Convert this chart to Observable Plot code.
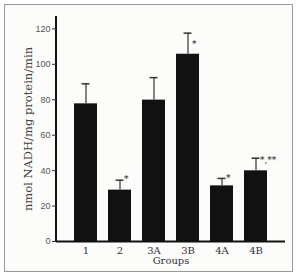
<!DOCTYPE html>
<html>
<head>
<meta charset="utf-8">
<script src="https://cdn.jsdelivr.net/npm/d3@7"></script>
<script src="https://cdn.jsdelivr.net/npm/@observablehq/plot@0.6"></script>
<style>
  html, body { margin: 0; padding: 0; background: #ffffff; }
  #wrap { position: relative; width: 296px; height: 275px; }
  #box { position: absolute; left: 4px; top: 4px; width: 287px; height: 266px; border: 1px solid #9a9a9a; background: #fcfcfb; }
  #chart { position: absolute; left: 0; top: 0; }
</style>
</head>
<body>
<div id="wrap"><div id="box"></div><div id="chart"></div></div>
<script>
const groups = ["1", "2", "3A", "3B", "4A", "4B"];
const values = [77.7, 29, 79.8, 105.7, 31.4, 39.9];
const errors = [11.3, 5.6, 12.7, 11.9, 4.2, 7.1];
const marks = ["", "*", "", "*", "*", "*,**"];
const markY = [null, 35, null, 111.5, 36, 46];
const yTicks = [0, 20, 40, 60, 80, 100, 120];

const data = groups.map((g, i) => ({group: g, value: values[i], err: errors[i], top: values[i] + errors[i], mark: marks[i], my: markY[i]}));

function leftAxisLine(...args) {
  const dims = args.find(a => a && typeof a === "object" && "marginLeft" in a && "height" in a);
  const line = document.createElementNS("http://www.w3.org/2000/svg", "line");
  line.setAttribute("x1", dims.marginLeft);
  line.setAttribute("x2", dims.marginLeft);
  line.setAttribute("y1", dims.marginTop);
  line.setAttribute("y2", dims.height - dims.marginBottom);
  line.setAttribute("stroke", "#111");
  line.setAttribute("stroke-width", 2);
  return line;
}

const chart = Plot.plot({
  width: 296,
  height: 275,
  marginLeft: 56,
  marginRight: 11,
  marginTop: 16,
  marginBottom: 34,
  style: {background: "transparent", fontFamily: "'DejaVu Serif', serif", fontSize: "10px", color: "#333"},
  x: {domain: groups, paddingInner: 0.33, paddingOuter: 0.48, label: null},
  y: {domain: [0, 127], label: null},
  marks: [
    Plot.barY(data, {x: "group", y: "value", fill: "#111"}),
    Plot.ruleX(data, {x: "group", y1: "value", y2: "top", stroke: "#333", strokeWidth: 1.2}),
    Plot.tickY(data, {x: "group", y: "top", stroke: "#333", strokeWidth: 1.5, insetLeft: 7.5, insetRight: 7.5}),
    Plot.text(data.filter(d => d.mark), {x: "group", y: "my", text: "mark", textAnchor: "start", dx: 4, fontSize: 9, fill: "#222"}),
    Plot.ruleY([0], {stroke: "#111", strokeWidth: 2}),
    leftAxisLine,
    Plot.axisY({ticks: yTicks, tickSize: 4, tickPadding: 2, fontFamily: "'Liberation Sans', sans-serif", fontSize: 9, fill: "#555", stroke: "#333", label: null}),
    Plot.axisY({ticks: [], tickSize: 0, label: "nmol NADH/mg protein/min", labelAnchor: "center", labelArrow: "none", labelOffset: 33,
      fontFamily: "'DejaVu Serif', serif", fontSize: 11.5, fill: "#444"}),
    Plot.axisX({tickSize: 0, tickPadding: 5, fontSize: 10, fill: "#333",
      label: "Groups", labelAnchor: "center", labelArrow: "none", labelOffset: 22})
  ]
});
document.getElementById("chart").appendChild(chart);
</script>
</body>
</html>
